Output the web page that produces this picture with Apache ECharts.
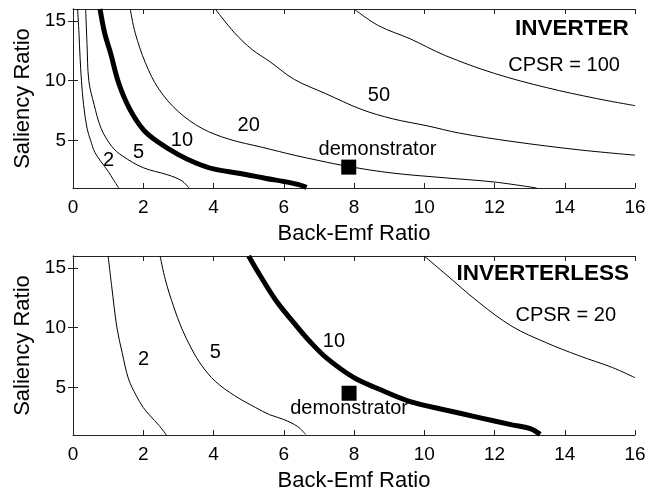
<!DOCTYPE html>
<html>
<head>
<meta charset="utf-8">
<script src="https://cdn.jsdelivr.net/npm/echarts@6/dist/echarts.min.js"></script>
<style>
html, body { margin: 0; padding: 0; background: #fff; }
#chart { width: 656px; height: 493px; }
</style>
</head>
<body>
<div id="chart"></div>
<script>
// axis ticks
const yTickValues = [5, 10, 15]

// INVERTER panel, CPSR contours [backEmf, saliency]
const inv2 = [[0.13,16],[0.17,14],[0.2,12],[0.24,10],[0.3,8],[0.4,6],[0.5,5],[0.62,4],[0.8,3.2],[1.0,2.4],[1.15,1.7],[1.3,1]]
const inv5 = [[0.36,16],[0.4,13],[0.45,10],[0.6,8],[0.8,6],[1.1,4.5],[1.4,3.7],[2.0,2.7],[2.7,2.1],[3.1,1.6],[3.3,1]]
const inv10 = [[0.77,16],[0.9,14],[1.07,12.3],[1.3,9.8],[1.6,7.7],[2.0,5.9],[2.4,4.9],[3.0,3.8],[3.5,3.1],[4.0,2.6],[4.8,2.2],[5.5,1.8],[6.0,1.55],[6.4,1.3],[6.65,1.05]]
const inv20 = [[1.63,16],[1.77,14],[2.06,11.5],[2.44,9.3],[3.0,7.4],[3.67,6.0],[4.43,5.1],[5.4,4.4],[6.3,3.75],[7.0,3.3],[7.85,2.8],[9.1,2.25],[10.6,1.85],[12.0,1.5],[13.2,1.0]]
const inv50 = [[4.05,16],[4.6,14],[5.1,12.6],[5.6,11.6],[6.3,10.1],[7.2,8.9],[8.2,7.6],[9.1,6.8],[10.1,6.2],[11.0,5.6],[12.5,4.9],[14.4,4.2],[16,3.75]]
const inv100 = [[8.0,16],[8.7,14.6],[9.6,13.5],[10.6,12.1],[12.0,10.6],[13.5,9.4],[14.9,8.5],[16,7.9]]
const invDemo = [[7.85,2.75]]
const invLabels = [[1.01,3.33,'2'],[1.87,4.0,'5'],[3.1,5.0,'10'],[5.0,6.25,'20'],[8.71,8.75,'50'],[13.98,11.25,'CPSR = 100'],[8.67,4.25,'demonstrator']]
const invTitle = [[15.82,14.3,'INVERTER']]

// INVERTERLESS panel
const less2 = [[1.0,16],[1.1,13.5],[1.25,10],[1.4,7.9],[1.58,5.7],[1.8,4.3],[2.0,3.3],[2.2,2.6],[2.45,1.8],[2.66,1]]
const less5 = [[2.48,16],[2.63,14],[2.86,11.8],[3.1,9.9],[3.38,8.2],[3.67,6.8],[4.05,5.5],[4.6,4.3],[5.2,3.3],[5.6,2.7],[6.0,2.3],[6.4,1.7],[6.62,1.05]]
const less10 = [[5.0,16],[5.34,14.3],[5.82,12.1],[6.29,10.4],[6.77,8.75],[7.24,7.4],[8.0,5.8],[8.67,4.9],[9.6,3.8],[10.6,3.1],[11.5,2.5],[12.5,1.85],[13.0,1.55],[13.3,1.05]]
const less20 = [[10.0,16],[10.56,14.6],[11.56,12.1],[12.5,10.1],[13.46,8.75],[14.4,7.65],[15.36,6.65],[16,5.8]]
const lessDemo = [[7.86,4.5]]
const lessLabels = [[2.01,7.36,'2'],[4.05,7.9,'5'],[7.43,8.8,'10'],[14.03,11.03,'CPSR = 20'],[7.86,3.2,'demonstrator']]
const lessTitle = [[15.83,14.52,'INVERTERLESS']]

const font = "'Liberation Sans', Arial, sans-serif"
const ink = '#000'

const chart = echarts.init(document.getElementById('chart'))

function xAxes(gridIndex) {
  const base = {
    gridIndex,
    type: 'value',
    min: 0,
    max: 16,
    interval: 2,
    axisLine: { show: true, lineStyle: { color: '#222', width: 1 } },
    axisTick: { show: true, inside: true, length: 5, lineStyle: { color: '#222' } },
    splitLine: { show: false }
  }
  return [
    {
      ...base,
      position: 'bottom',
      name: 'Back-Emf Ratio',
      nameLocation: 'middle',
      nameGap: 35,
      nameTextStyle: { fontFamily: font, fontSize: 22, color: ink },
      axisLabel: { fontFamily: font, fontSize: 19, color: ink, margin: 10 }
    },
    { ...base, position: 'top', axisLabel: { show: false } }
  ]
}

function yAxes(gridIndex) {
  const base = {
    gridIndex,
    type: 'value',
    min: 1,
    max: 16,
    axisLine: { show: true, lineStyle: { color: '#222', width: 1 } },
    axisTick: { show: true, inside: true, length: 5, customValues: yTickValues, lineStyle: { color: '#222' } },
    splitLine: { show: false }
  }
  return [
    {
      ...base,
      position: 'left',
      name: 'Saliency Ratio',
      nameLocation: 'middle',
      nameGap: 37,
      nameTextStyle: { fontFamily: font, fontSize: 22, color: ink },
      axisLabel: { fontFamily: font, fontSize: 19, color: ink, margin: 7, customValues: yTickValues }
    },
    { ...base, position: 'right', axisLabel: { show: false } }
  ]
}

function curve(data, idx, width) {
  return {
    type: 'line',
    xAxisIndex: idx * 2,
    yAxisIndex: idx * 2,
    data,
    smooth: 0.35,
    showSymbol: false,
    silent: true,
    lineStyle: { color: '#000', width }
  }
}

// text placed in data coordinates; opacity 1 so labels stay solid black
function textSeries(items, idx, opts) {
  return {
    type: 'scatter',
    xAxisIndex: idx * 2,
    yAxisIndex: idx * 2,
    symbolSize: 1,
    itemStyle: { color: 'rgba(0,0,0,0)', opacity: 1 },
    silent: true,
    data: items.map(d => ({ value: [d[0], d[1]], name: d[2] })),
    label: {
      show: true,
      position: 'inside',
      formatter: '{b}',
      fontFamily: font,
      color: '#000',
      opacity: 1,
      ...opts
    }
  }
}

function demoSeries(data, idx) {
  return {
    type: 'scatter',
    xAxisIndex: idx * 2,
    yAxisIndex: idx * 2,
    symbol: 'rect',
    symbolSize: 15,
    itemStyle: { color: '#000', opacity: 1 },
    data
  }
}

const option = {
  animation: false,
  backgroundColor: '#fff',
  grid: [
    { left: 73, top: 9, width: 562, height: 179 },
    { left: 73, top: 256, width: 562, height: 179 }
  ],
  xAxis: [...xAxes(0), ...xAxes(1)],
  yAxis: [...yAxes(0), ...yAxes(1)],
  series: [
    curve(inv2, 0, 1),
    curve(inv5, 0, 1),
    curve(inv10, 0, 5),
    curve(inv20, 0, 1),
    curve(inv50, 0, 1),
    curve(inv100, 0, 1),
    demoSeries(invDemo, 0),
    textSeries(invLabels, 0, { fontSize: 20 }),
    textSeries(invTitle, 0, { fontSize: 22.5, fontWeight: 'bold', align: 'right' }),

    curve(less2, 1, 1),
    curve(less5, 1, 1),
    curve(less10, 1, 5),
    curve(less20, 1, 1),
    demoSeries(lessDemo, 1),
    textSeries(lessLabels, 1, { fontSize: 20 }),
    textSeries(lessTitle, 1, { fontSize: 22.5, fontWeight: 'bold', align: 'right' })
  ]
}

chart.setOption(option)
</script>
</body>
</html>
